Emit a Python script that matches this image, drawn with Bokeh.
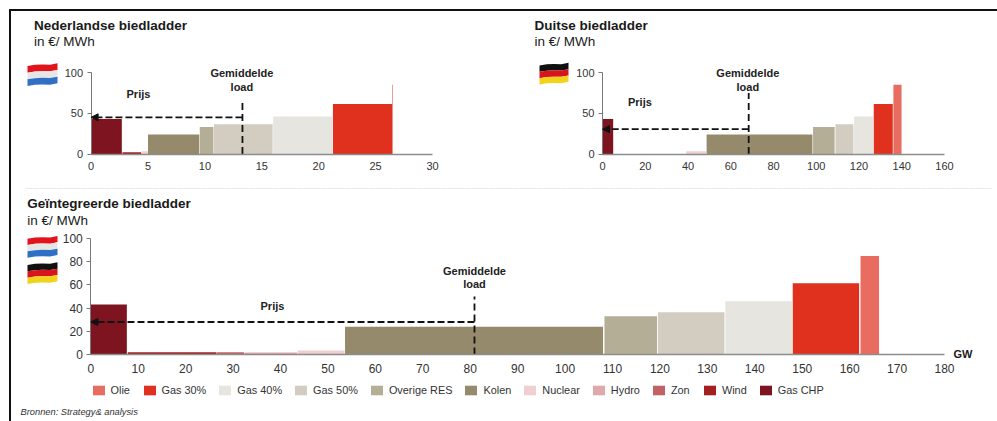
from bokeh.plotting import figure
from bokeh.layouts import column, row
from bokeh.models import (Label, PolyAnnotation, Arrow, NormalHead,
                          Legend, LegendItem, Range1d, FixedTicker)
from bokeh.embed import file_html
from bokeh.resources import INLINE

categories = ["Olie", "Gas 30%", "Gas 40%", "Gas 50%", "Overige RES", "Kolen",
              "Nuclear", "Hydro", "Zon", "Wind", "Gas CHP"]
colors = ["#E86C60", "#E0301E", "#E7E5E0", "#D2CDC0", "#B5AE97", "#968A6C",
          "#EFCFD0", "#DFA8AB", "#C26264", "#A32020", "#7D1420"]
price = [85, 61.5, 46, 36.5, 33, 24, 3.5, 1.7, 2, 2, 43]

nl_left = [26.47, 21.25, 16.0, 10.8, 9.55, 5.0, 4.45, None, None, 2.75, 0]
nl_right = [26.53, 26.45, 21.2, 15.95, 10.75, 9.5, 5.0, None, None, 4.4, 2.7]
de_left = [136.1, 126.9, 117.7, 109.0, 98.5, 48.7, 39.2, None, None, None, 0]
de_right = [139.9, 135.8, 126.6, 117.4, 108.6, 98.2, 48.4, None, None, None, 5]
all_left = [162.3, 148.0, 133.8, 119.6, 108.3, 53.6, 43.6, 32.4, 26.6, 7.8, 0]
all_right = [166.2, 162.0, 147.9, 133.6, 119.4, 108.0, 53.5, 43.5, 32.3, 26.5, 7.6]

nl_ticks = [0, 5, 10, 15, 20, 25, 30]
de_ticks = [0, 20, 40, 60, 80, 100, 120, 140, 160]
all_ticks = list(range(0, 181, 10))
small_yticks = [0, 50, 100]
all_yticks = [0, 20, 40, 60, 80, 100]

nl_load, nl_price, nl_top = 13.3, 45, 67
de_load, de_price, de_top = 68.4, 30.5, 75
all_load, all_price, all_top = 80.9, 28, 50

FONT = "Liberation Sans"
INK = "#333333"
NL_FLAG = ["#E1141C", "#E6E6E6", "#2F6FC4"]
DE_FLAG = ["#111111", "#D8141C", "#F2D21A"]


def make(w, h, left, right, top, bottom, xmax, xticks, yticks, fs):
    # The frame fills the whole canvas, so texts outside the axes are not clipped:
    # the axes sit inside it at fixed data positions, limited by their bounds.
    sx = (w - left - right) / xmax
    sy = (h - top - bottom) / 100
    p = figure(width=w, height=h, min_border_left=0, min_border_right=0,
               min_border_top=0, min_border_bottom=0,
               x_range=Range1d(-left / sx, xmax + right / sx),
               y_range=Range1d(-bottom / sy, 100 + top / sy),
               output_backend="svg", toolbar_location=None, tools="")
    p.outline_line_color = None
    p.background_fill_alpha = 0
    p.border_fill_alpha = 0
    p.grid.visible = False
    p.xaxis.fixed_location = 0
    p.yaxis.fixed_location = 0
    p.xaxis.bounds = (0, xmax)
    p.yaxis.bounds = (0, 100)
    p.xaxis.ticker = FixedTicker(ticks=xticks)
    p.yaxis.ticker = FixedTicker(ticks=yticks)
    for ax in (p.xaxis[0], p.yaxis[0]):
        ax.major_label_text_font = FONT
        ax.major_label_text_font_size = fs
        ax.major_label_text_color = INK
        ax.minor_tick_line_color = None
        ax.major_tick_in = 0
    p.xaxis.major_tick_line_color = None
    p.xaxis.major_tick_out = 0
    p.xaxis.axis_line_color = "#8C8C8C"
    p.xaxis.axis_line_width = 1.5
    p.xaxis.major_label_standoff = 8
    p.yaxis.axis_line_color = "#777777"
    p.yaxis.major_tick_line_color = "#777777"
    p.yaxis.major_tick_out = 4
    p.yaxis.major_label_standoff = 4
    return p


def bars(p, lefts, rights):
    out = {}
    for c, col, v, l, r in zip(categories, colors, price, lefts, rights):
        if l is None:
            continue
        out[c] = p.quad(left=[l], right=[r], bottom=[0], top=[v], fill_color=col, line_color=None)
    return out


def marks(p, load, pr, top, head):
    p.line([load, load], [0, top], line_color="#111111", line_width=1.8, line_dash="7 4")
    p.add_layout(Arrow(end=NormalHead(size=head, fill_color="#111111", line_color="#111111"),
                       x_start=load, y_start=pr, x_end=0, y_end=pr,
                       line_color="#111111", line_width=1.8, line_dash="7 3"))


def dlabel(p, x, y, text, size="11px"):
    p.add_layout(Label(x=x, y=y, y_offset=1, text=text, text_font=FONT, text_font_size=size,
                       text_font_style="bold", text_color="#222222",
                       text_align="center", text_baseline="middle"))


def slabel(p, ox, oy, hgt, x, y, text, size="13.5px", style="normal", color="#1a1a1a"):
    p.add_layout(Label(x=x - ox, y=hgt - (y - oy) + 1, x_units="screen", y_units="screen",
                       text=text, text_font=FONT, text_font_size=size, text_font_style=style,
                       text_color=color, text_align="left", text_baseline="middle"))


def flag(p, ox, oy, hgt, x, y, w, h, cols):
    ts = [0, 0.25, 0.5, 0.75, 1]
    wave = [1.5, 0.3, 0, 0.2, -1.2]
    for i, col in enumerate(cols):
        top = [y + i * h / 3 + d for d in wave]
        bot = [y + (i + 1) * h / 3 + d for d in wave]
        xs = [x + t * w - ox for t in ts] + [x + t * w - ox for t in reversed(ts)]
        ys = [hgt - (v - oy) for v in top] + [hgt - (v - oy) for v in reversed(bot)]
        p.add_layout(PolyAnnotation(xs=xs, ys=ys, xs_units="screen", ys_units="screen",
                                    fill_color=col, fill_alpha=1, line_color=None, level="overlay"))


# ---- Netherlands
H1 = 187
p1 = make(500, H1, 90.6, 68, 72, 33.5, 30, nl_ticks, small_yticks, "11px")
bars(p1, nl_left, nl_right)
marks(p1, nl_load, nl_price, nl_top, 7)
dlabel(p1, 13.25, 98, "Gemiddelde")
dlabel(p1, 13.25, 81, "load")
dlabel(p1, 4.16, 73, "Prijs")
slabel(p1, 0, 0, H1, 33.5, 26, "Nederlandse biedladder", style="bold")
slabel(p1, 0, 0, H1, 33.5, 42, "in €/ MWh")
flag(p1, 0, 0, H1, 27, 64, 30, 20, NL_FLAG)

# ---- Germany
p2 = make(497, H1, 102, 53, 72, 33.5, 160, de_ticks, small_yticks, "11px")
bars(p2, de_left, de_right)
marks(p2, de_load, de_price, de_top, 7)
dlabel(p2, 68, 98, "Gemiddelde")
dlabel(p2, 68, 81, "load")
dlabel(p2, 17.5, 62, "Prijs")
slabel(p2, 500, 0, H1, 534, 26, "Duitse biedladder", style="bold")
slabel(p2, 500, 0, H1, 534, 42, "in €/ MWh")
flag(p2, 500, 0, H1, 539, 63.5, 29, 19, DE_FLAG)

# ---- Integrated
H3 = 234
p3 = make(997, H3, 90.3, 53, 51, 67, 180, all_ticks, all_yticks, "12px")
p3.xaxis.major_label_standoff = 9
rs = bars(p3, all_left, all_right)
marks(p3, all_load, all_price, all_top, 7)
dlabel(p3, 80.9, 71, "Gemiddelde")
dlabel(p3, 80.9, 60, "load")
dlabel(p3, 38.3, 41, "Prijs")
slabel(p3, 0, 187, H3, 26.7, 204, "Geïntegreerde biedladder", style="bold")
slabel(p3, 0, 187, H3, 26.7, 220.7, "in €/ MWh")
slabel(p3, 0, 187, H3, 953, 354, "GW", size="11px", style="bold")
slabel(p3, 0, 187, H3, 20, 412, "Bronnen: Strategy& analysis", size="9.3px", style="italic", color="#333333")
flag(p3, 0, 187, H3, 27, 236.7, 30, 19, NL_FLAG)
flag(p3, 0, 187, H3, 27, 263, 30, 19, DE_FLAG)
p3.add_layout(PolyAnnotation(xs=[25, 991, 991, 25], ys=[H3 - 1, H3 - 1, H3 - 1, H3 - 1],
                             xs_units="screen", ys_units="screen", fill_alpha=0,
                             line_color="#8A8A8A", line_width=1, line_dash="1 2", level="overlay"))

legend = Legend(items=[LegendItem(label=c, renderers=[rs[c]]) for c in categories],
                orientation="horizontal", location=(90.5, 25),
                glyph_width=15, glyph_height=12, label_standoff=5, spacing=11,
                padding=0, margin=0, border_line_color=None, background_fill_alpha=0,
                label_text_font=FONT, label_text_font_size="10.9px", label_text_color=INK)
p3.add_layout(legend, "center")

# The slide's black rule along the top and the left, behind the transparent figures.
page = column(row(p1, p2), p3, styles={
    "background-color": "white",
    "background-image": "linear-gradient(#111111,#111111), linear-gradient(#111111,#111111)",
    "background-size": "988px 2px, 2px 412px",
    "background-position": "9px 9px, 9px 9px",
    "background-repeat": "no-repeat",
})
open("out.html", "w").write(file_html(page, INLINE))
